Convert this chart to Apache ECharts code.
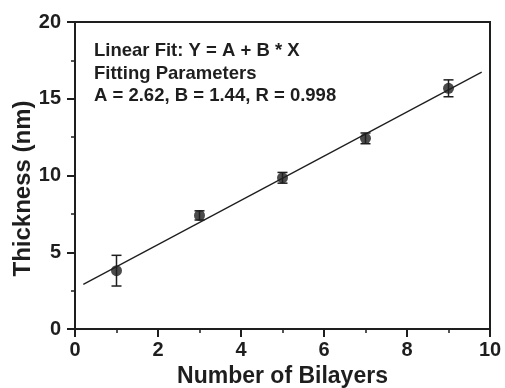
<!DOCTYPE html>
<html>
<head>
<meta charset="utf-8">
<script src="https://cdn.jsdelivr.net/npm/echarts@6/dist/echarts.min.js"></script>
<style>
  html, body { margin: 0; padding: 0; background: #fff; }
  #chart { width: 505px; height: 388px; }
</style>
</head>
<body>
<div id="chart"></div>
<script>
// measured points
const bilayers = [1, 3, 5, 7, 9]
const thickness = [3.8, 7.4, 9.85, 12.42, 15.68]
const errors = [1.0, 0.3, 0.35, 0.35, 0.55]
// fit line end points (Y = 2.62 + 1.44 X)
const fitX = [0.2, 9.8]
const fitY = [2.91, 16.73]
const xTicks = [0, 2, 4, 6, 8, 10]
const yTicks = [0, 5, 10, 15, 20]

const ink = '#1e1e1e'
const font = '"Liberation Sans", Arial, sans-serif'

const chart = echarts.init(document.getElementById('chart'))

const points = bilayers.map((x, i) => [x, thickness[i]])
const bars = bilayers.map((x, i) => [x, thickness[i] - errors[i], thickness[i] + errors[i]])
const fitLine = fitX.map((x, i) => [x, fitY[i]])

const option = {
  animation: false,
  grid: {
    left: 75, right: 15, top: 22, bottom: 59,
    outerBoundsMode: 'none',
    containLabel: false,
    show: true, borderColor: ink, borderWidth: 2
  },
  xAxis: {
    type: 'value',
    min: xTicks[0], max: xTicks[xTicks.length - 1], interval: 2,
    name: 'Number of Bilayers',
    nameLocation: 'middle', nameGap: 34,
    nameTextStyle: { fontFamily: font, fontWeight: 'bold', fontSize: 23, color: ink },
    axisLine: { onZero: false, lineStyle: { color: ink, width: 2 } },
    axisTick: { inside: false, length: 8, lineStyle: { color: ink, width: 2 } },
    minorTick: { show: true, splitNumber: 2, length: 4, lineStyle: { color: ink, width: 1.5 } },
    axisLabel: { fontFamily: font, fontWeight: 'bold', fontSize: 20, color: ink, margin: 11 },
    splitLine: { show: false }
  },
  yAxis: {
    type: 'value',
    min: yTicks[0], max: yTicks[yTicks.length - 1], interval: 5,
    name: 'Thickness (nm)',
    nameLocation: 'middle', nameGap: 40,
    nameMoveOverlap: false,
    nameTextStyle: {
      fontFamily: font, fontWeight: 'bold', fontSize: 24, color: ink,
      padding: [0, 26, 0, 0]
    },
    axisLine: { onZero: false, lineStyle: { color: ink, width: 2 } },
    axisTick: { inside: false, length: 8, lineStyle: { color: ink, width: 2 } },
    minorTick: { show: true, splitNumber: 2, length: 4, lineStyle: { color: ink, width: 1.5 } },
    axisLabel: { fontFamily: font, fontWeight: 'bold', fontSize: 20, color: ink, margin: 14 },
    splitLine: { show: false }
  },
  graphic: [{
    type: 'text',
    left: 94, top: 40,
    style: {
      text: 'Linear Fit: Y = A + B * X\nFitting Parameters\nA = 2.62, B = 1.44, R = 0.998',
      font: 'bold 18.5px ' + font,
      lineHeight: 22.5,
      fill: ink
    }
  }],
  series: [
    {
      type: 'line',
      data: fitLine,
      symbol: 'none',
      lineStyle: { color: ink, width: 1.3 },
      z: 2
    },
    {
      type: 'custom',
      data: bars,
      renderItem: (params, api) => {
        const lo = api.coord([api.value(0), api.value(1)])
        const hi = api.coord([api.value(0), api.value(2)])
        const w = 5
        const style = { stroke: ink, lineWidth: 1.5 }
        return {
          type: 'group',
          children: [
            { type: 'line', shape: { x1: lo[0], y1: lo[1], x2: hi[0], y2: hi[1] }, style },
            { type: 'line', shape: { x1: lo[0] - w, y1: lo[1], x2: lo[0] + w, y2: lo[1] }, style },
            { type: 'line', shape: { x1: hi[0] - w, y1: hi[1], x2: hi[0] + w, y2: hi[1] }, style }
          ]
        }
      },
      encode: { x: 0, y: [1, 2] },
      z: 3
    },
    {
      type: 'scatter',
      data: points,
      symbol: 'circle',
      symbolSize: 11,
      itemStyle: { color: ink },
      z: 4
    }
  ]
}

chart.setOption(option)
</script>
</body>
</html>
